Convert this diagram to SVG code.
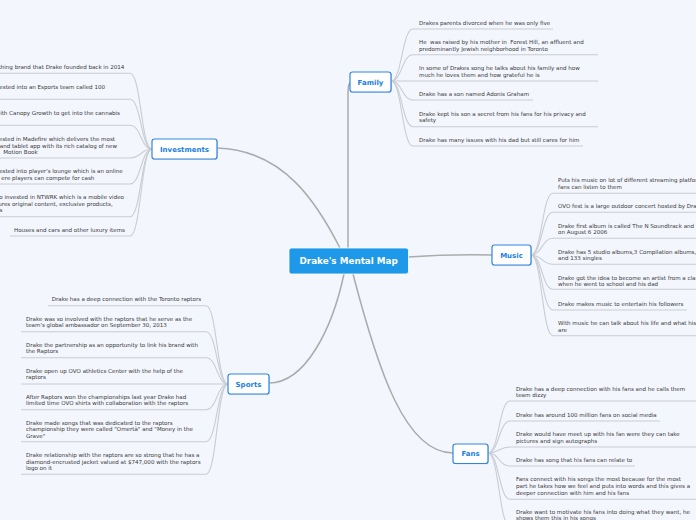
<svg xmlns="http://www.w3.org/2000/svg" width="696" height="520" viewBox="0 0 696 520">
<defs>
<style>
.bg{fill:#f3f6fd}
.main{fill:none;stroke:#ababab;stroke-width:1.5}
.leaf{fill:none;stroke:#caccd4;stroke-width:1.1}
.t{font-family:"DejaVu Sans",Verdana,sans-serif;font-size:5.55px;fill:#383838}
.node{fill:#ffffff;stroke:#2f86e0;stroke-width:1.2}
.shadow{fill:#c5cbd8}
.lbl{font-family:"DejaVu Sans",Verdana,sans-serif;font-size:7px;font-weight:bold;fill:#1a7fdf;text-anchor:middle}
.root{fill:#1e98e8;stroke:#ffffff;stroke-width:0.8}
.rlbl{font-family:"DejaVu Sans",Verdana,sans-serif;font-size:8.8px;font-weight:bold;fill:#ffffff;text-anchor:middle}
.e{text-anchor:end}
</style>
</defs>
<rect class="bg" x="0" y="0" width="696" height="520"/>

<g id="connectors">
<path class="main" d="M217,148 C285,150 318,205 340,248"/>
<path class="main" d="M348,248 L348,92 Q348,82 352,82"/>
<path class="main" d="M408,257 Q450,254 492,255"/>
<path class="main" d="M344,274 C332,330 305,383 269,383"/>
<path class="main" d="M353,274 C378,370 405,453 453,453"/>

<!-- Family leaves -->
<path class="leaf" d="M391,81 C402,81 402,29 413,29 L553,29"/>
<path class="leaf" d="M391,81 C402,81 402,54.7 413,54.7 L598,54.7"/>
<path class="leaf" d="M391,81 L598,81"/>
<path class="leaf" d="M391,81 C402,81 402,100 413,100 L533,100"/>
<path class="leaf" d="M391,81 C402,81 402,126.7 413,126.7 L598,126.7"/>
<path class="leaf" d="M391,81 C402,81 402,146 413,146 L583,146"/>

<!-- Music leaves -->
<path class="leaf" d="M531,255 C542,255 542,193.3 553,193.3 L700,193.3"/>
<path class="leaf" d="M531,255 C542,255 542,212.3 553,212.3 L700,212.3"/>
<path class="leaf" d="M531,255 C542,255 542,238.3 553,238.3 L700,238.3"/>
<path class="leaf" d="M531,255 C542,255 542,264.3 553,264.3 L700,264.3"/>
<path class="leaf" d="M531,255 C542,255 542,289.3 553,289.3 L700,289.3"/>
<path class="leaf" d="M531,255 C542,255 542,310 553,310 L687,310"/>
<path class="leaf" d="M531,255 C542,255 542,335.7 553,335.7 L700,335.7"/>

<!-- Fans leaves -->
<path class="leaf" d="M488,453 C499,453 499,401 510,401 L700,401"/>
<path class="leaf" d="M488,453 C499,453 499,421 510,421 L660,421"/>
<path class="leaf" d="M488,453 C499,453 499,447 510,447 L700,447"/>
<path class="leaf" d="M488,453 C499,453 499,466 510,466 L635,466"/>
<path class="leaf" d="M488,453 C499,453 499,499.3 510,499.3 L700,499.3"/>
<path class="leaf" d="M488,453 C499,453 499,526 510,526 L700,526"/>

<!-- Sports leaves -->
<path class="leaf" d="M228,384 C217,384 217,305.7 206,305.7 L47.7,305.7"/>
<path class="leaf" d="M228,384 C217,384 217,331.7 206,331.7 L21,331.7"/>
<path class="leaf" d="M228,384 C217,384 217,357.7 206,357.7 L21,357.7"/>
<path class="leaf" d="M228,384 L21,384"/>
<path class="leaf" d="M228,384 C217,384 217,409.7 206,409.7 L21,409.7"/>
<path class="leaf" d="M228,384 C217,384 217,441.7 206,441.7 L21,441.7"/>
<path class="leaf" d="M228,384 C217,384 217,474.3 206,474.3 L21,474.3"/>

<!-- Investments leaves -->
<path class="leaf" d="M152,149 C141,149 141,73.3 130,73.3 L-5,73.3"/>
<path class="leaf" d="M152,149 C141,149 141,99.3 130,99.3 L-5,99.3"/>
<path class="leaf" d="M152,149 C141,149 141,125.3 130,125.3 L-5,125.3"/>
<path class="leaf" d="M152,149 C141,149 141,158 130,158 L-5,158"/>
<path class="leaf" d="M152,149 C141,149 141,184 130,184 L-5,184"/>
<path class="leaf" d="M152,149 C141,149 141,216.7 130,216.7 L-5,216.7"/>
<path class="leaf" d="M152,149 C141,149 141,236 130,236 L10,236"/>
</g>

<g id="root">
<rect class="root" x="289" y="248" width="119.5" height="26" rx="2.5"/>
<text class="rlbl" x="348.7" y="264.2">Drake's Mental Map</text>
</g>

<g id="family">
<rect class="shadow" x="350.8" y="72.8" width="41" height="20" rx="2.5"/>
<rect class="node" x="350" y="72" width="41" height="20" rx="2.5"/>
<text class="lbl" x="370.5" y="84.6">Family</text>
</g>
<g id="investments">
<rect class="shadow" x="152.8" y="139.8" width="65" height="20" rx="2.5"/>
<rect class="node" x="152" y="139" width="65" height="20" rx="2.5"/>
<text class="lbl" x="184.5" y="151.6">Investments</text>
</g>
<g id="music">
<rect class="shadow" x="492.8" y="245.8" width="39" height="20" rx="2.5"/>
<rect class="node" x="492" y="245" width="39" height="20" rx="2.5"/>
<text class="lbl" x="511.5" y="257.6">Music</text>
</g>
<g id="sports">
<rect class="shadow" x="228.8" y="374.8" width="41" height="20" rx="2.5"/>
<rect class="node" x="228" y="374" width="41" height="20" rx="2.5"/>
<text class="lbl" x="248.5" y="386.6">Sports</text>
</g>
<g id="fans">
<rect class="shadow" x="453.8" y="444.8" width="35" height="19.5" rx="2.5"/>
<rect class="node" x="453" y="444" width="35" height="19.5" rx="2.5"/>
<text class="lbl" x="470.5" y="456.3">Fans</text>
</g>

<g id="family-leaves">
<text class="t" x="419" y="25.3">Drakes parents divorced when he was only five</text>
<text class="t" x="419" y="44.3" xml:space="preserve">He  was raised by his mother in  Forest Hill, an affluent and</text>
<text class="t" x="419" y="51">predominantly Jewish neighborhood in Toronto</text>
<text class="t" x="419" y="70">In some of Drakes song he talks about his family and how</text>
<text class="t" x="419" y="77">much he loves them and how grateful he is</text>
<text class="t" x="419" y="96">Drake has a son named Adonis Graham</text>
<text class="t" x="419" y="116">Drake kept his son a secret from his fans for his privacy and</text>
<text class="t" x="419" y="122.3">safety</text>
<text class="t" x="419" y="141.7">Drake has many issues with his dad but still cares for him</text>
</g>

<g id="music-leaves">
<text class="t" x="558" y="182">Puts his music on lot of different streaming platforms</text>
<text class="t" x="558" y="188.7">fans can listen to them</text>
<text class="t" x="558" y="207.7">OVO fest is a large outdoor concert hosted by Drake</text>
<text class="t" x="558" y="228">Drake first album is called The N Soundtrack and</text>
<text class="t" x="558" y="234.3">on August 6 2006</text>
<text class="t" x="558" y="253.7">Drake has 5 studio albums,3 Compilation albums,</text>
<text class="t" x="558" y="260">and 133 singles</text>
<text class="t" x="558" y="279.7">Drake got the idea to become an artist from a class</text>
<text class="t" x="558" y="286">when he went to school and his dad</text>
<text class="t" x="558" y="306">Drake makes music to entertain his followers</text>
<text class="t" x="558" y="325">With music he can talk about his life and what his</text>
<text class="t" x="558" y="332">are</text>
</g>

<g id="fans-leaves">
<text class="t" x="516" y="391">Drake has a deep connection with his fans and he calls them</text>
<text class="t" x="516" y="397">team dizzy</text>
<text class="t" x="516" y="417">Drake has around 100 million fans on social media</text>
<text class="t" x="516" y="436">Drake would have meet up with his fan were they can take</text>
<text class="t" x="516" y="443">pictures and sign autographs</text>
<text class="t" x="516" y="462">Drake has song that his fans can relate to</text>
<text class="t" x="516" y="481.3">Fans connect with his songs the most because for the most</text>
<text class="t" x="516" y="488">part he takes how we feel and puts into words and this gives a</text>
<text class="t" x="516" y="495">deeper connection with him and his fans</text>
<text class="t" x="516" y="513.7">Drake want to motivate his fans into doing what they want, he</text>
<text class="t" x="516" y="520.2">shows them this in his songs</text>
</g>

<g id="sports-leaves">
<text class="t" x="51.7" y="301">Drake has a deep connection with the Toronto raptors</text>
<text class="t" x="26" y="321">Drake was so involved with the raptors that he serve as the</text>
<text class="t" x="26" y="327.3">team's global ambassador on September 30, 2013</text>
<text class="t" x="26" y="347">Drake the partnership as an opportunity to link his brand with</text>
<text class="t" x="26" y="353">the Raptors</text>
<text class="t" x="26" y="373">Drake open up OVO athletics Center with the help of the</text>
<text class="t" x="26" y="379">raptors</text>
<text class="t" x="26" y="398.7">After Raptors won the championships last year Drake had</text>
<text class="t" x="26" y="405">limited time OVO shirts with collaboration with the raptors</text>
<text class="t" x="26" y="424.7">Drake made songs that was dedicated to the raptors</text>
<text class="t" x="26" y="431">championship they were called "Omertà" and "Money in the</text>
<text class="t" x="26" y="437.7">Grave"</text>
<text class="t" x="26" y="457">Drake relationship with the raptors are so strong that he has a</text>
<text class="t" x="26" y="463.7">diamond-encrusted jacket valued at $747,000 with the raptors</text>
<text class="t" x="26" y="470">logo on it</text>
</g>

<g id="investments-leaves">
<text class="t e" x="124.3" y="69.3">thing brand that Drake founded back in 2014</text>
<text class="t e" x="105" y="89.3">ested into an Esports team called 100</text>
<text class="t e" x="120" y="115.3">ith Canopy Growth to get into the cannabis</text>
<text class="t e" x="115" y="141">ested in Madefire which delivers the most</text>
<text class="t e" x="117" y="147.5">and tablet app with its rich catalog of new</text>
<text class="t" x="3.3" y="154">Motion Book</text>
<text class="t e" x="122.7" y="173">ested into player's lounge which is an online</text>
<text class="t e" x="94.3" y="179.7">ere players can compete for cash</text>
<text class="t e" x="124" y="199">o invested in NTWRK which is a mobile video</text>
<text class="t e" x="112.7" y="205.5">ures original content, exclusive products,</text>
<text class="t e" x="2.5" y="212">s</text>
<text class="t e" x="125" y="231.7">Houses and cars and other luxury items</text>
</g>
</svg>
